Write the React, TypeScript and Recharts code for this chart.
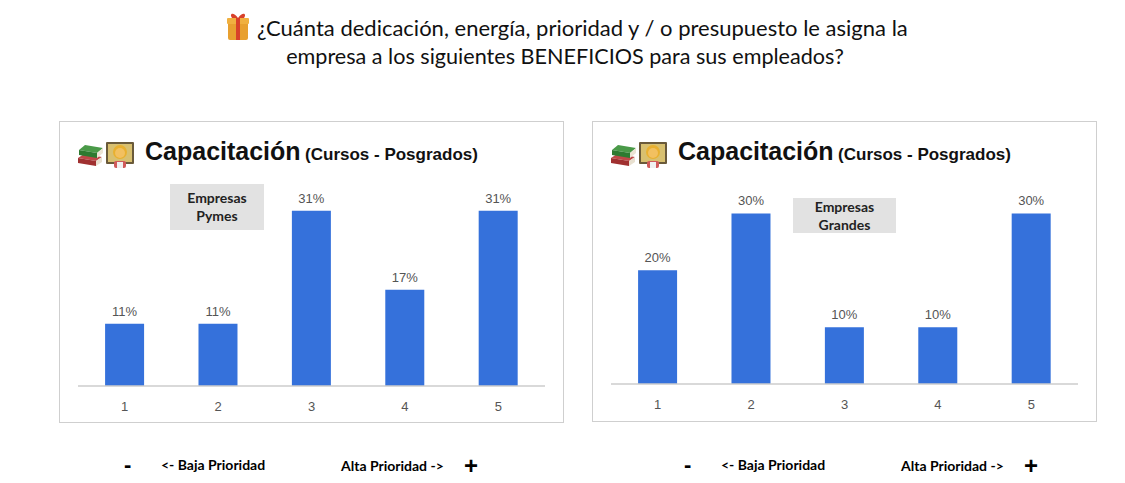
import React from "react";
import { BarChart, Bar, XAxis, YAxis, LabelList } from "recharts";

const categories = ["1", "2", "3", "4", "5"];
const pymesValues = [11, 11, 31, 17, 31];
const grandesValues = [20, 30, 10, 10, 30];
const mainTitle1 = "¿Cuánta dedicación, energía, prioridad y / o presupuesto le asigna la";
const mainTitle2 = "empresa a los siguientes BENEFICIOS para sus empleados?";
const panelTitle = "Capacitación";
const panelSubtitle = "(Cursos - Posgrados)";
const lowLabel = "<- Baja Prioridad";
const highLabel = "Alta Prioridad ->";

const BAR_COLOR = "#3571db";
const SANS = "'Liberation Sans', Arial, sans-serif";
const CAL = "Lato, 'Open Sans', sans-serif";

const buildData = (vals: number[]) => categories.map((c, i) => ({ cat: c, value: vals[i] }));

const GiftIcon = ({ x, y }: { x: number; y: number }) => (
  <svg style={{ position: "absolute", left: x, top: y }} width={22} height={30} viewBox="0 0 22 30">
    <rect x={1} y={9} width={20} height={20} rx={2} fill="#e8a030" />
    <rect x={0} y={7} width={22} height={6} rx={1} fill="#f0b040" />
    <rect x={9} y={7} width={4} height={22} fill="#d8402a" />
    <path d="M11 7 C6 0 2 3 5 7 Z" fill="#d8402a" />
    <path d="M11 7 C16 0 20 3 17 7 Z" fill="#d8402a" />
  </svg>
);

const BooksIcon = ({ x, y }: { x: number; y: number }) => (
  <svg style={{ position: "absolute", left: x, top: y }} width={28} height={28} viewBox="0 0 28 28">
    <path d="M2 18 L20 21 L26 17 L8 14 Z" fill="#c04848" />
    <path d="M2 18 L20 21 L20 26 L2 23 Z" fill="#a03030" />
    <path d="M20 21 L26 17 L26 22 L20 26 Z" fill="#e8e0d0" />
    <path d="M3 10 L21 13 L27 8 L9 5 Z" fill="#4a9a48" />
    <path d="M3 10 L21 13 L21 18 L3 15 Z" fill="#2e7a30" />
    <path d="M21 13 L27 8 L27 13 L21 18 Z" fill="#ece4d4" />
  </svg>
);

const TeacherIcon = ({ x, y }: { x: number; y: number }) => (
  <svg style={{ position: "absolute", left: x, top: y }} width={28} height={29} viewBox="0 0 28 29">
    <rect x={0} y={2} width={28} height={22} rx={1} fill="#6a5a3a" />
    <rect x={2} y={4} width={24} height={18} fill="#d8c070" />
    <circle cx={14} cy={12} r={7} fill="#e8b030" />
    <circle cx={14} cy={13} r={5} fill="#f2c060" />
    <rect x={8} y={21} width={12} height={7} rx={2} fill="#d05a5a" />
    <rect x={11} y={22} width={6} height={6} fill="#f0f0f0" />
  </svg>
);

type PanelProps = {
  left: number;
  top: number;
  width: number;
  height: number;
  values: number[];
  marginTop: number;
  marginBottom: number;
  boxLabel: string[];
  boxX: number;
  boxY: number;
  boxW: number;
  boxH: number;
};

const Panel = (p: PanelProps) => (
  <div
    style={{
      position: "absolute",
      left: p.left,
      top: p.top,
      width: p.width,
      height: p.height,
      border: "1.5px solid #cfcfcf",
      boxSizing: "border-box",
      background: "#fff",
    }}
  >
    <BarChart
      width={p.width - 3}
      height={p.height - 3}
      data={buildData(p.values)}
      margin={{ top: p.marginTop, right: 17, left: 18, bottom: p.marginBottom }}
      barCategoryGap="29%"
    >
      <XAxis
        dataKey="cat"
        axisLine={{ stroke: "#cccccc", strokeWidth: 1.5 }}
        tickLine={false}
        tickSize={6}
        tickMargin={10}
        tick={{ fill: "#555555", fontSize: 13, fontFamily: SANS }}
        height={30}
      />
      <YAxis hide domain={[0, 35]} />
      <Bar dataKey="value" fill={BAR_COLOR} isAnimationActive={false}>
        <LabelList
          dataKey="value"
          position="top"
          offset={8}
          formatter={(v: any) => `${v}%`}
          style={{ fill: "#555555", fontSize: 13, fontFamily: SANS }}
        />
      </Bar>
    </BarChart>
    <BooksIcon x={16} y={18} />
    <TeacherIcon x={46} y={18} />
    <div
      style={{
        position: "absolute",
        left: 85,
        top: 15,
        whiteSpace: "nowrap",
        fontFamily: SANS,
        fontWeight: "bold",
        color: "#111",
      }}
    >
      <span style={{ fontSize: 25 }}>{panelTitle}</span>{" "}
      <span style={{ fontSize: 17 }}>{panelSubtitle}</span>
    </div>
    <div
      style={{
        position: "absolute",
        left: p.boxX,
        top: p.boxY,
        width: p.boxW,
        height: p.boxH,
        background: "#e2e2e2",
        display: "flex",
        flexDirection: "column",
        justifyContent: "center",
        alignItems: "center",
        fontFamily: CAL,
        fontWeight: "bold",
        fontSize: 14,
        lineHeight: "18px",
        color: "#222",
      }}
    >
      {p.boxLabel.map((t) => (
        <div key={t}>{t}</div>
      ))}
    </div>
  </div>
);

const BottomLabels = ({ x }: { x: number }) => (
  <>
    <div style={{ position: "absolute", left: x, top: 452, fontFamily: SANS, fontWeight: "bold", fontSize: 22, color: "#000" }}>-</div>
    <div style={{ position: "absolute", left: x + 37, top: 456, fontFamily: CAL, fontWeight: "bold", fontSize: 14, color: "#000", whiteSpace: "nowrap" }}>{lowLabel}</div>
    <div style={{ position: "absolute", left: x + 217, top: 457, fontFamily: CAL, fontWeight: "bold", fontSize: 14, color: "#000", whiteSpace: "nowrap" }}>{highLabel}</div>
    <div style={{ position: "absolute", left: x + 340, top: 452, fontFamily: SANS, fontWeight: "bold", fontSize: 24, color: "#000" }}>+</div>
  </>
);

export default function App() {
  return (
    <div style={{ position: "absolute", left: 0, top: 0, width: 1125, height: 483, background: "#fff", overflow: "hidden" }}>
      <GiftIcon x={227} y={11} />
      <div
        style={{
          position: "absolute",
          left: 257,
          top: 13,
          whiteSpace: "nowrap",
          fontFamily: CAL,
          fontSize: 22,
          lineHeight: "29px",
          color: "#111",
        }}
      >
        {mainTitle1}
      </div>
      <div
        style={{
          position: "absolute",
          left: 0,
          top: 42,
          width: 1130,
          textAlign: "center",
          whiteSpace: "nowrap",
          fontFamily: CAL,
          fontSize: 21.6,
          lineHeight: "29px",
          color: "#111",
        }}
      >
        {mainTitle2}
      </div>
      <Panel
        left={59}
        top={121}
        width={505}
        height={302}
        values={pymesValues}
        marginTop={66}
        marginBottom={5}
        boxLabel={["Empresas", "Pymes"]}
        boxX={110}
        boxY={62}
        boxW={94}
        boxH={46}
      />
      <Panel
        left={592}
        top={121}
        width={505}
        height={301}
        values={grandesValues}
        marginTop={63}
        marginBottom={6}
        boxLabel={["Empresas", "Grandes"]}
        boxX={200}
        boxY={76}
        boxW={103}
        boxH={35}
      />
      <BottomLabels x={124} />
      <BottomLabels x={684} />
    </div>
  );
}
